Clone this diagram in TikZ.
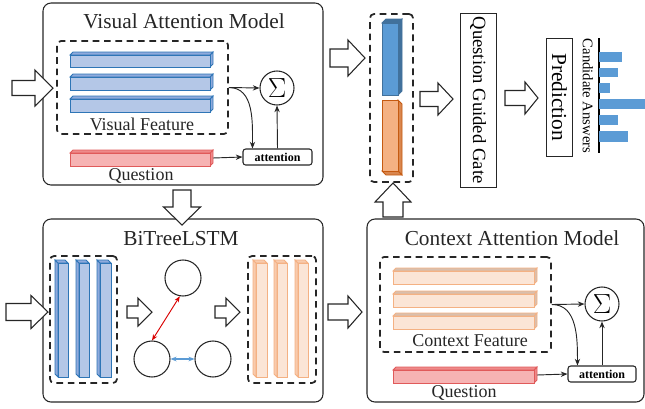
\documentclass[tikz,border=0pt]{standalone}
\usepackage{fontspec}
\setmainfont{Liberation Serif}
\usetikzlibrary{arrows.meta,fit,calc}
\definecolor{vfront}{HTML}{B4C7E7}
\definecolor{vside}{HTML}{8FAADC}
\definecolor{vline}{HTML}{2E75B6}
\definecolor{qfront}{HTML}{F6B3B3}
\definecolor{qside}{HTML}{EE8A8A}
\definecolor{qline}{HTML}{E05A5A}
\definecolor{cfront}{HTML}{FBE5D6}
\definecolor{cside}{HTML}{D9BFAE}
\definecolor{cline}{HTML}{F4B183}
\definecolor{rbfront}{HTML}{5B9BD5}
\definecolor{rbside}{HTML}{41719C}
\definecolor{rofront}{HTML}{F4B183}
\definecolor{roside}{HTML}{D9864E}
\definecolor{roline}{HTML}{C55A11}
\definecolor{obside}{HTML}{F8CBAD}
\newcommand\cubebar[9]{%
  \filldraw[#9 side] (#8,#2) -- ({#8+(#5)},{#2+(#6)}) -- ({#8+(#5)},{#4+(#6)}) -- (#8,#4) -- cycle;
  \filldraw[#9 side] (#1,#7) -- ({#1+(#5)},{#7+(#6)}) -- ({#3+(#5)},{#7+(#6)}) -- (#3,#7) -- cycle;
  \filldraw[#9 front] (#1,#2) rectangle (#3,#4);}
\newcommand\barrowH[6]{%
  \draw[blockarrow] (#1,{#4-#5}) -- (#2,{#4-#5}) -- (#2,{#4-#6}) -- (#3,#4) -- (#2,{#4+#6}) -- (#2,{#4+#5}) -- (#1,{#4+#5}) -- cycle;}
\newcommand\barrowV[6]{%
  \draw[blockarrow] ({#1-#5},#2) -- ({#1-#5},#3) -- ({#1-#6},#3) -- (#1,#4) -- ({#1+#6},#3) -- ({#1+#5},#3) -- ({#1+#5},#2) -- cycle;}
\begin{document}
\begin{tikzpicture}[x=0.75pt,y=-0.75pt,
  panel/.style={draw=black!85, line width=0.8pt, rounded corners=6pt, inner sep=0pt},
  dbox/.style={draw=black!85, line width=1.3pt, dash pattern=on 5pt off 3.5pt, rounded corners=3pt, inner sep=0pt},
  title/.style={font=\fontsize{16}{18}\selectfont, text=black!85},
  lbl/.style={font=\fontsize{13.5}{15}\selectfont, text=black!85, inner sep=0pt},
  sig/.style={draw=black!85, circle, line width=0.8pt, minimum size=25.5pt, inner sep=0pt, font=\fontsize{20}{20}\selectfont},
  attn/.style={draw=black!85, rounded corners=2pt, line width=0.8pt, inner sep=0pt},
  attntext/.style={inner sep=0pt, font=\fontsize{9}{10}\selectfont\bfseries},
  conn/.style={-{Stealth[length=5pt,width=4pt]}, line width=0.7pt, black!85},
  blockarrow/.style={draw=black!85, fill=white, line width=0.8pt, line join=miter},
  tnode/.style={draw=black!85, circle, line width=0.8pt, minimum size=27pt, inner sep=0pt},
  plainbox/.style={draw=black!85, line width=0.7pt, inner sep=0pt},
  vbar front/.style={fill=vfront, draw=vline, line width=0.6pt},
  vbar side/.style={fill=vside, draw=vline, line width=0.6pt},
  qbar front/.style={fill=qfront, draw=qline, line width=0.6pt},
  qbar side/.style={fill=qside, draw=qline, line width=0.6pt},
  cbar front/.style={fill=cfront, draw=cline, line width=0.6pt},
  cbar side/.style={fill=cside, draw=cline, line width=0.6pt},
  obar front/.style={fill=cfront, draw=cline, line width=0.6pt},
  obar side/.style={fill=obside, draw=cline, line width=0.6pt},
  rblue front/.style={fill=rbfront, draw=rbside, line width=0.6pt},
  rblue side/.style={fill=rbside, draw=rbside, line width=0.6pt},
  rorange front/.style={fill=rofront, draw=roline, line width=0.6pt},
  rorange side/.style={fill=roside, draw=roline, line width=0.6pt},
  ansbar/.style={fill=rbfront}
]
\useasboundingbox (0,0) rectangle (645,408);

% ---------------- Visual Attention Model ----------------
\node[panel, fit={(43,3) (323,185)}] (vam) {};
\node[title] at (184,21) {Visual Attention Model};
\node[dbox, fit={(57,41) (228,134)}] (vf) {};
\cubebar{70}{55}{210}{67}{3}{-3}{55}{210}{vbar}
\cubebar{70}{77}{210}{90}{3}{-3}{77}{210}{vbar}
\cubebar{70}{99}{210}{112}{3}{-3}{99}{210}{vbar}
\node[lbl] at (142,124) {Visual Feature};
\cubebar{70}{153}{210}{166}{3}{-3}{153}{210}{qbar}
\coordinate (q1) at (213,158);
\node[lbl] at (141,176) {Question};
\node[sig] (s1) at (277,88) {$\Sigma$};
\node[attn, fit={(243,149) (312,165)}] (a1) {};
\node[attntext] at (a1.center) {attention};
\draw[conn] (vf.east) -- (s1.west);
\draw[conn] (vf.east) to[out=0,in=90] ($(a1.north west)+(10,0)$);
\draw[conn] (a1.north) -- (s1.south);
\draw[conn] (q1) -- (a1.west);

% ---------------- BiTreeLSTM ----------------
\node[panel, fit={(43,219) (323,402)}] (bt) {};
\node[title] at (181,239) {BiTreeLSTM};
\node[dbox, fit={(50,256) (117,383)}] (bl) {};
\cubebar{58}{263}{68}{377}{-3}{-3}{263}{58}{vbar}
\cubebar{79}{263}{89}{377}{-3}{-3}{263}{79}{vbar}
\cubebar{100}{263}{111}{377}{-3}{-3}{263}{100}{vbar}
\node[dbox, fit={(248,256) (316,383)}] (br) {};
\cubebar{256}{263}{267}{377}{-3}{-3}{263}{256}{obar}
\cubebar{277}{263}{287}{377}{-3}{-3}{263}{277}{obar}
\cubebar{298}{263}{308}{377}{-3}{-3}{263}{298}{obar}
\node[tnode] (c1) at (183,278) {};
\node[tnode] (c2) at (152,359) {};
\node[tnode] (c3) at (213,359) {};
\draw[{Stealth[length=4.5pt,width=3.5pt]}-{Stealth[length=4.5pt,width=3.5pt]}, red!85!black, line width=0.7pt] (c1.260) -- (c2.north);
\draw[{Stealth[length=4.5pt,width=3.5pt]}-{Stealth[length=4.5pt,width=3.5pt]}, rbfront, line width=0.9pt] (c2.east) -- (c3.west);

% ---------------- Context Attention Model ----------------
\node[panel, fit={(367,219) (644,402)}] (cam) {};
\node[title] at (512,238) {Context Attention Model};
\node[dbox, fit={(380,257) (551,352)}] (cf) {};
\cubebar{393}{271}{534}{284}{3}{-3}{271}{534}{cbar}
\cubebar{393}{294}{534}{307}{3}{-3}{294}{534}{cbar}
\cubebar{393}{316}{534}{329}{3}{-3}{316}{534}{cbar}
\node[lbl] at (470,341) {Context Feature};
\cubebar{393}{370}{534}{383}{3}{-3}{370}{534}{qbar}
\coordinate (q2) at (537,375);
\node[lbl] at (464,393) {Question};
\node[sig] (s2) at (602,304) {$\Sigma$};
\node[attn, fit={(568,366) (636,382)}] (a2) {};
\node[attntext] at (a2.center) {attention};
\draw[conn] (cf.east) -- (s2.west);
\draw[conn] (cf.east) to[out=0,in=90] ($(a2.north west)+(10,0)$);
\draw[conn] (a2.north) -- (s2.south);
\draw[conn] (q2) -- (a2.west);

% ---------------- Fusion column ----------------
\node[dbox, fit={(370,14) (413,182)}] (fb) {};
\cubebar{382}{23}{398}{95}{4}{-4}{23}{398}{rblue}
\cubebar{382}{100}{398}{171}{4}{4}{171}{398}{rorange}
\node[plainbox, rotate=-90, minimum width=130.5pt, minimum height=27pt, font=\fontsize{14}{16}\selectfont] (qgg) at (478,100) {Question Guided Gate};
\node[plainbox, rotate=-90, minimum width=88.5pt, minimum height=20pt, font=\fontsize{16}{18}\selectfont] (pred) at (559.5,97) {Prediction};
\node[rotate=-90, inner sep=0pt, font=\fontsize{11}{12}\selectfont] (cand) at (588,96) {Candidate Answers};
\coordinate (axt) at (599,38);
\coordinate (axb) at (599,153);
\draw[line width=1.2pt] (axt) -- (axb);
\fill[ansbar] (599,52) rectangle (622,62);
\fill[ansbar] (599,68) rectangle (618,77);
\fill[ansbar] (599,83) rectangle (610,93);
\fill[ansbar] (599,99) rectangle (645,109);
\fill[ansbar] (599,115) rectangle (618,125);
\fill[ansbar] (599,131) rectangle (628,142);

% ---------------- Block arrows ----------------
\barrowH{12}{35}{53}{88}{7.5}{18}
\barrowV{182}{190}{207}{225}{9}{18.5}
\barrowH{330}{348}{365}{58}{9}{18}
\barrowV{393}{217}{202}{183}{10}{18}
\barrowH{420}{438}{453}{99}{7.5}{16}
\barrowH{505}{525}{538}{98}{7.5}{16}
\barrowH{6}{31}{48}{312}{8.5}{16.5}
\barrowH{127}{138}{152}{312}{6}{14}
\barrowH{215}{226}{240}{312}{6}{14}
\barrowH{328}{348}{362}{312}{8}{16}
\end{tikzpicture}
\end{document}
